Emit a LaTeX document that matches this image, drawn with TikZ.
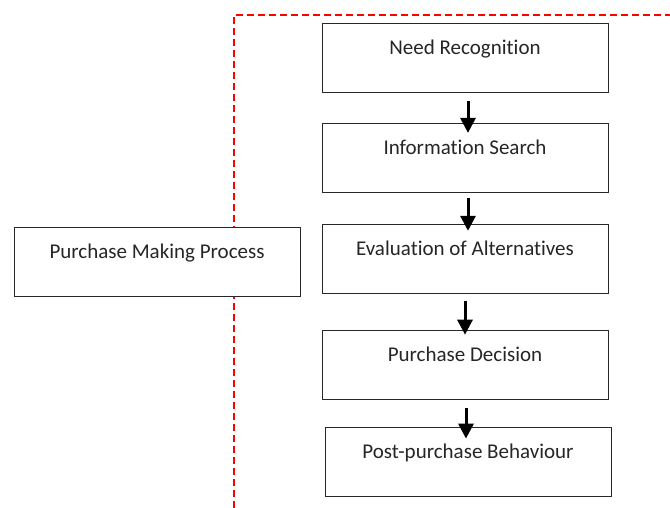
\documentclass[tikz,border=0pt]{standalone}
\usepackage{fontspec}
\setmainfont{Carlito}[Ligatures={NoCommon}]
\usetikzlibrary{positioning,arrows.meta}

\definecolor{boxline}{RGB}{40,40,40}
\definecolor{boxtext}{RGB}{38,38,38}
\tikzset{
    stage/.style={draw=boxline, line width=0.9pt, fill=white, text=boxtext,
        minimum width=286pt, inner sep=0pt, text height=31pt, text depth=38pt,
        font=\fontsize{21}{25}\selectfont},
    flow/.style={-{Triangle[length=15pt,width=15pt]}, line width=3pt},
    border/.style={red, line width=2.4pt, dash pattern=on 7pt off 4pt}
}

\begin{document}
\begin{tikzpicture}[x=1pt,y=1pt]
    \useasboundingbox (0,0) rectangle (670,-508);

    % red dashed frame
    \draw[border] (234,-508) -- (234,-15) -- (672,-15);

    \node [stage, anchor=north] (need) at (465,-23) {Need Recognition};
    \node [stage, below=30pt of need] (info) {Information Search};
    \node [stage, below=31pt of info] (eval) {Evaluation of Alternatives};
    \node [stage, below=36pt of eval] (decision) {Purchase Decision};
    \node [stage, below=27pt of decision, xshift=3pt] (post) {Post-purchase Behaviour};

    \node [stage, anchor=north] (process) at (157,-227) {Purchase Making Process};

    \draw[flow] ([xshift=3pt,yshift=-8pt]need.south) -- ([xshift=3pt,yshift=-10pt]info.north);
    \draw[flow] ([xshift=3pt,yshift=-5pt]info.south) -- ([xshift=3pt,yshift=-7pt]eval.north);
    \draw[flow] ([yshift=-7pt]eval.south) -- ([yshift=-5pt]decision.north);
    \draw[flow] ([xshift=1pt,yshift=-8pt]decision.south) -- ([xshift=-2pt,yshift=-12pt]post.north);
\end{tikzpicture}
\end{document}
